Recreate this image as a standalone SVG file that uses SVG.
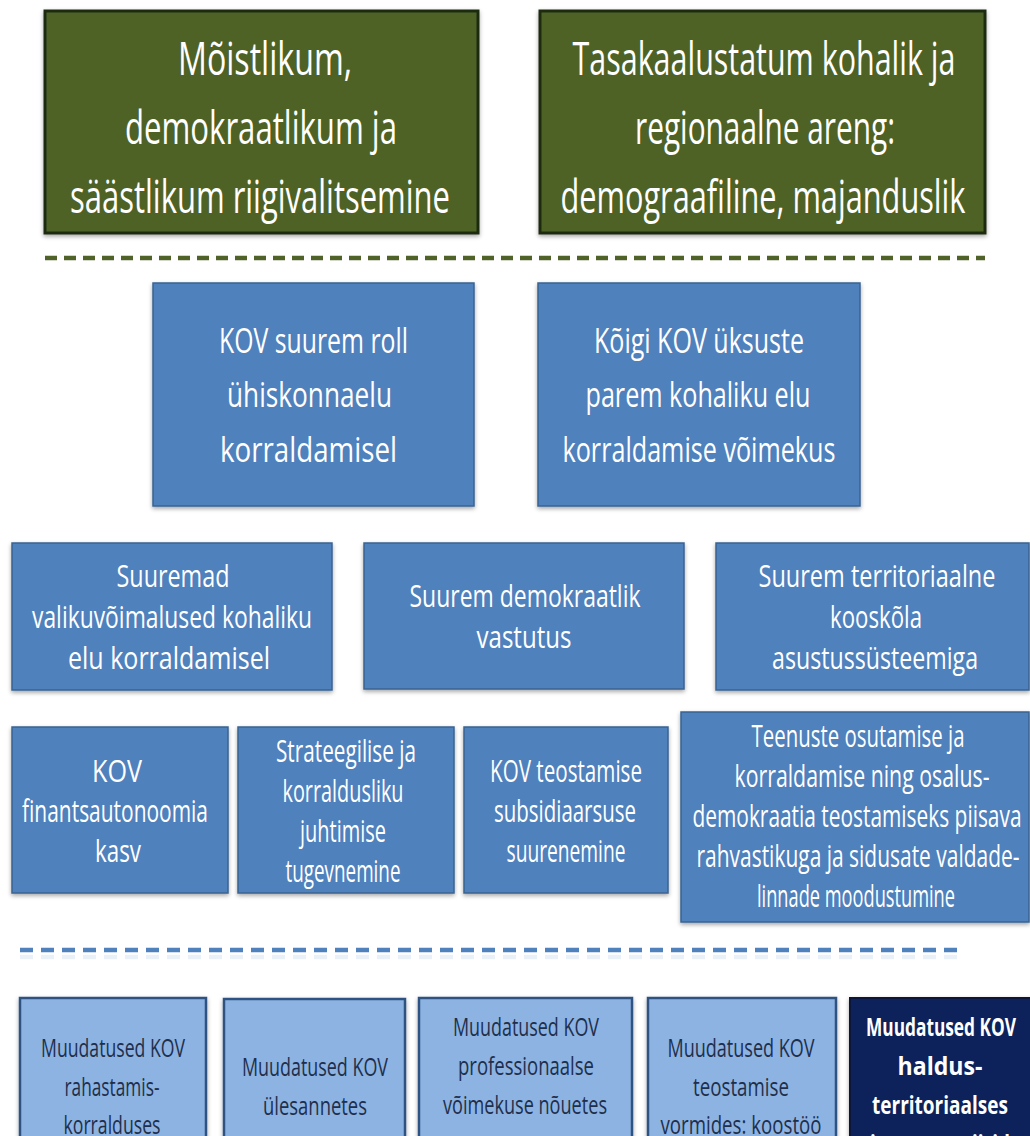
<svg xmlns="http://www.w3.org/2000/svg" width="1030" height="1136" viewBox="0 0 1030 1136">
<defs>
<filter id="sh" x="-10%" y="-10%" width="120%" height="130%">
<feDropShadow dx="0" dy="2" stdDeviation="2" flood-color="#000" flood-opacity="0.35"/>
</filter>
<style>
.green{fill:#4F6228;stroke:#1F2A10;stroke-width:3;filter:url(#sh)}
.blue{fill:#4F81BD;stroke:#3A6491;stroke-width:1.5;filter:url(#sh)}
.light{fill:#8DB3E2;stroke:#2F5382;stroke-width:2.5;filter:url(#sh)}
.navy{fill:#10245A;stroke:#0A1838;stroke-width:2;filter:url(#sh)}
text{font-family:"Open Sans","Liberation Sans",sans-serif;text-anchor:middle;fill:#FFFFFF}
.t45{font-size:45px}
.t35{font-size:35px}
.t31{font-size:31px}
.t25{font-size:25px}
.dark{fill:#1E2F4C}
.bold{font-weight:bold}
.sepG{stroke:#4F6228;stroke-width:4.5;stroke-dasharray:12 7;fill:none}
.sepB{stroke:#4F81BD;stroke-width:4.5;stroke-dasharray:13 8;fill:none}
</style>
</defs>
<rect x="0" y="0" width="1030" height="1136" fill="#FFFFFF"/>

<g id="goal-1">
<rect class="green" x="45" y="11" width="433" height="222"/>
<text class="t45" transform="matrix(0.7 0 0 1 265 0)" x="0" y="75" textLength="248.6" lengthAdjust="spacingAndGlyphs">Mõistlikum,</text>
<text class="t45" transform="matrix(0.7 0 0 1 261 0)" x="0" y="144" textLength="388.6" lengthAdjust="spacingAndGlyphs">demokraatlikum ja</text>
<text class="t45" transform="matrix(0.7 0 0 1 260 0)" x="0" y="213" textLength="542.9" lengthAdjust="spacingAndGlyphs">säästlikum riigivalitsemine</text>
</g>
<g id="goal-2">
<rect class="green" x="540" y="11" width="445" height="222"/>
<text class="t45" transform="matrix(0.7 0 0 1 764 0)" x="0" y="75" textLength="547.1" lengthAdjust="spacingAndGlyphs">Tasakaalustatum kohalik ja</text>
<text class="t45" transform="matrix(0.7 0 0 1 765 0)" x="0" y="144" textLength="371.4" lengthAdjust="spacingAndGlyphs">regionaalne areng:</text>
<text class="t45" transform="matrix(0.7 0 0 1 763 0)" x="0" y="213" textLength="578.6" lengthAdjust="spacingAndGlyphs">demograafiline, majanduslik</text>
</g>

<g id="separators">
<line class="sepG" x1="45" y1="258" x2="985" y2="258"/>
<line class="sepB" x1="20" y1="950" x2="960" y2="950"/>
<line class="sepB" x1="20" y1="957" x2="960" y2="957" opacity="0.12"/>
</g>

<g id="aim-1">
<rect class="blue" x="153" y="283" width="321" height="223"/>
<text class="t35" transform="matrix(0.7 0 0 1 313.5 0)" x="0" y="353" textLength="270" lengthAdjust="spacingAndGlyphs">KOV suurem roll</text>
<text class="t35" transform="matrix(0.7 0 0 1 309.5 0)" x="0" y="407" textLength="235.7" lengthAdjust="spacingAndGlyphs">ühiskonnaelu</text>
<text class="t35" transform="matrix(0.7 0 0 1 308.5 0)" x="0" y="462" textLength="252.9" lengthAdjust="spacingAndGlyphs">korraldamisel</text>
</g>
<g id="aim-2">
<rect class="blue" x="538" y="283" width="322" height="223"/>
<text class="t35" transform="matrix(0.7 0 0 1 699 0)" x="0" y="353" textLength="300" lengthAdjust="spacingAndGlyphs">Kõigi KOV üksuste</text>
<text class="t35" transform="matrix(0.7 0 0 1 698 0)" x="0" y="407" textLength="321.4" lengthAdjust="spacingAndGlyphs">parem kohaliku elu</text>
<text class="t35" transform="matrix(0.7 0 0 1 699 0)" x="0" y="462" textLength="390" lengthAdjust="spacingAndGlyphs">korraldamise võimekus</text>
</g>

<g id="result-1">
<rect class="blue" x="12" y="543" width="320" height="147"/>
<text class="t31" transform="matrix(0.7 0 0 1 173 0)" x="0" y="587" textLength="161.4" lengthAdjust="spacingAndGlyphs">Suuremad</text>
<text class="t31" transform="matrix(0.7 0 0 1 172 0)" x="0" y="628" textLength="400" lengthAdjust="spacingAndGlyphs">valikuvõimalused kohaliku</text>
<text class="t31" transform="matrix(0.7 0 0 1 169 0)" x="0" y="669" textLength="288.6" lengthAdjust="spacingAndGlyphs">elu korraldamisel</text>
</g>
<g id="result-2">
<rect class="blue" x="364" y="543" width="320" height="146"/>
<text class="t31" transform="matrix(0.7 0 0 1 525 0)" x="0" y="607" textLength="330" lengthAdjust="spacingAndGlyphs">Suurem demokraatlik</text>
<text class="t31" transform="matrix(0.7 0 0 1 524 0)" x="0" y="648" textLength="135.7" lengthAdjust="spacingAndGlyphs">vastutus</text>
</g>
<g id="result-3">
<rect class="blue" x="716" y="543" width="313" height="147"/>
<text class="t31" transform="matrix(0.7 0 0 1 877 0)" x="0" y="587" textLength="338.6" lengthAdjust="spacingAndGlyphs">Suurem territoriaalne</text>
<text class="t31" transform="matrix(0.7 0 0 1 876 0)" x="0" y="628" textLength="131.4" lengthAdjust="spacingAndGlyphs">kooskõla</text>
<text class="t31" transform="matrix(0.7 0 0 1 875 0)" x="0" y="669" textLength="294.3" lengthAdjust="spacingAndGlyphs">asustussüsteemiga</text>
</g>

<g id="means-1">
<rect class="blue" x="12" y="727" width="216" height="166"/>
<text class="t31" transform="matrix(0.7 0 0 1 117 0)" x="0" y="782" textLength="71.4" lengthAdjust="spacingAndGlyphs">KOV</text>
<text class="t31" transform="matrix(0.7 0 0 1 115 0)" x="0" y="822" textLength="265.7" lengthAdjust="spacingAndGlyphs">finantsautonoomia</text>
<text class="t31" transform="matrix(0.7 0 0 1 118 0)" x="0" y="862" textLength="65.7" lengthAdjust="spacingAndGlyphs">kasv</text>
</g>
<g id="means-2">
<rect class="blue" x="238" y="727" width="216" height="166"/>
<text class="t31" transform="matrix(0.7 0 0 1 346 0)" x="0" y="762" textLength="200" lengthAdjust="spacingAndGlyphs">Strateegilise ja</text>
<text class="t31" transform="matrix(0.7 0 0 1 343 0)" x="0" y="802" textLength="172.9" lengthAdjust="spacingAndGlyphs">korraldusliku</text>
<text class="t31" transform="matrix(0.7 0 0 1 343 0)" x="0" y="842" textLength="122.9" lengthAdjust="spacingAndGlyphs">juhtimise</text>
<text class="t31" transform="matrix(0.7 0 0 1 343 0)" x="0" y="882" textLength="164.3" lengthAdjust="spacingAndGlyphs">tugevnemine</text>
</g>
<g id="means-3">
<rect class="blue" x="464" y="727" width="204" height="166"/>
<text class="t31" transform="matrix(0.7 0 0 1 566 0)" x="0" y="782" textLength="217.1" lengthAdjust="spacingAndGlyphs">KOV teostamise</text>
<text class="t31" transform="matrix(0.7 0 0 1 565 0)" x="0" y="822" textLength="202.9" lengthAdjust="spacingAndGlyphs">subsidiaarsuse</text>
<text class="t31" transform="matrix(0.7 0 0 1 566 0)" x="0" y="862" textLength="170" lengthAdjust="spacingAndGlyphs">suurenemine</text>
</g>
<g id="means-4">
<rect class="blue" x="681" y="712" width="348" height="210"/>
<text class="t31" transform="matrix(0.7 0 0 1 858 0)" x="0" y="747" textLength="304.3" lengthAdjust="spacingAndGlyphs">Teenuste osutamise ja</text>
<text class="t31" transform="matrix(0.7 0 0 1 862 0)" x="0" y="787" textLength="364.3" lengthAdjust="spacingAndGlyphs">korraldamise ning osalus-</text>
<text class="t31" transform="matrix(0.6 0 0 1 857 0)" x="0" y="827" textLength="548.3" lengthAdjust="spacingAndGlyphs">demokraatia teostamiseks piisava</text>
<text class="t31" transform="matrix(0.6 0 0 1 858 0)" x="0" y="867" textLength="538.3" lengthAdjust="spacingAndGlyphs">rahvastikuga ja sidusate valdade-</text>
<text class="t31" transform="matrix(0.7 0 0 1 856 0)" x="0" y="907" textLength="282.9" lengthAdjust="spacingAndGlyphs">linnade moodustumine</text>
</g>

<g id="change-1">
<rect class="light" x="20" y="998" width="186" height="180"/>
<text class="t25 dark" transform="matrix(0.7 0 0 1 113 0)" x="0" y="1057" textLength="205.7" lengthAdjust="spacingAndGlyphs">Muudatused KOV</text>
<text class="t25 dark" transform="matrix(0.7 0 0 1 112 0)" x="0" y="1096" textLength="135.7" lengthAdjust="spacingAndGlyphs">rahastamis-</text>
<text class="t25 dark" transform="matrix(0.7 0 0 1 112 0)" x="0" y="1134" textLength="138.6" lengthAdjust="spacingAndGlyphs">korralduses</text>
</g>
<g id="change-2">
<rect class="light" x="224" y="999" width="181" height="180"/>
<text class="t25 dark" transform="matrix(0.7 0 0 1 315 0)" x="0" y="1076" textLength="208.6" lengthAdjust="spacingAndGlyphs">Muudatused KOV</text>
<text class="t25 dark" transform="matrix(0.7 0 0 1 315 0)" x="0" y="1115" textLength="148.6" lengthAdjust="spacingAndGlyphs">ülesannetes</text>
</g>
<g id="change-3">
<rect class="light" x="419" y="998" width="213" height="180"/>
<text class="t25 dark" transform="matrix(0.7 0 0 1 526 0)" x="0" y="1036" textLength="208.6" lengthAdjust="spacingAndGlyphs">Muudatused KOV</text>
<text class="t25 dark" transform="matrix(0.7 0 0 1 526 0)" x="0" y="1075" textLength="194.3" lengthAdjust="spacingAndGlyphs">professionaalse</text>
<text class="t25 dark" transform="matrix(0.7 0 0 1 525 0)" x="0" y="1114" textLength="234.3" lengthAdjust="spacingAndGlyphs">võimekuse nõuetes</text>
</g>
<g id="change-4">
<rect class="light" x="648" y="998" width="188" height="180"/>
<text class="t25 dark" transform="matrix(0.7 0 0 1 741 0)" x="0" y="1057" textLength="210" lengthAdjust="spacingAndGlyphs">Muudatused KOV</text>
<text class="t25 dark" transform="matrix(0.7 0 0 1 741 0)" x="0" y="1096" textLength="137.1" lengthAdjust="spacingAndGlyphs">teostamise</text>
<text class="t25 dark" transform="matrix(0.7 0 0 1 741 0)" x="0" y="1134" textLength="230" lengthAdjust="spacingAndGlyphs">vormides: koostöö</text>
</g>
<g id="change-5">
<rect class="navy" x="850" y="998" width="185" height="180"/>
<text class="t25 bold" transform="matrix(0.7 0 0 1 941 0)" x="0" y="1036" textLength="214.3" lengthAdjust="spacingAndGlyphs">Muudatused KOV</text>
<text class="t25 bold" transform="matrix(0.7 0 0 1 940 0)" x="0" y="1075" textLength="121.4" lengthAdjust="spacingAndGlyphs">haldus-</text>
<text class="t25 bold" transform="matrix(0.7 0 0 1 940 0)" x="0" y="1114" textLength="194.3" lengthAdjust="spacingAndGlyphs">territoriaalses</text>
<text class="t25 bold" transform="matrix(0.7 0 0 1 940 0)" x="0" y="1153" textLength="200" lengthAdjust="spacingAndGlyphs">jaotuses; piirid</text>
</g>
</svg>
